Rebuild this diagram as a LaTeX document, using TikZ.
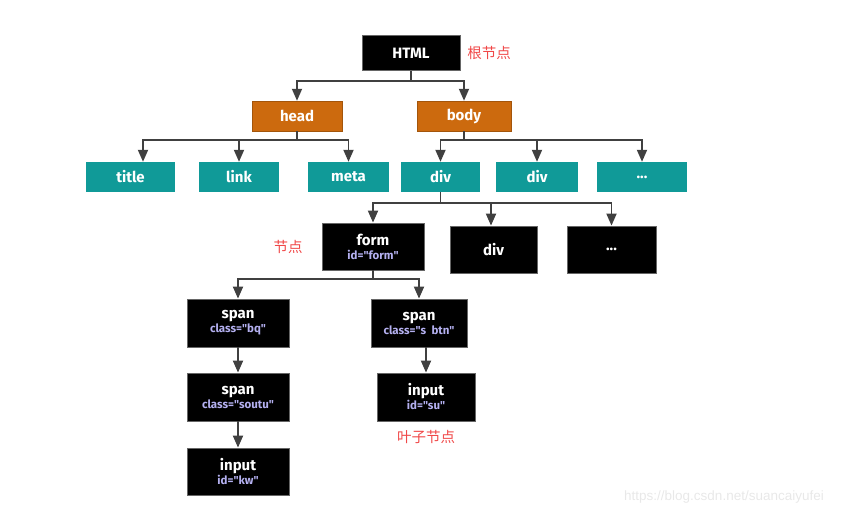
\documentclass[tikz,border=0pt]{standalone}
\usepackage{fontspec}
\setmainfont{Fira Sans}[Ligatures=TeXOff]
\newfontfamily\cjk{Noto Sans CJK SC}
\newfontfamily\wmfont{Liberation Sans}
\usetikzlibrary{arrows.meta}
\definecolor{teal1}{HTML}{109A98}
\definecolor{orange1}{HTML}{CC6A0E}
\definecolor{attr}{HTML}{B4B0F0}
\definecolor{red1}{HTML}{F04848}
\definecolor{line1}{HTML}{404040}
\tikzset{
  box/.style={inner sep=0pt, text=white, font=\bfseries\fontsize{15}{17}\selectfont, align=center},
  blackbox/.style={box, fill=black, draw=black!60, line width=0.8pt},
  tealbox/.style={box, fill=teal1},
  orangebox/.style={box, fill=orange1, draw=orange1!80!black, line width=0.5pt},
  conn/.style={draw=line1, line width=1.8pt},
  arr/.style={conn, -{Triangle[length=12pt,width=10pt]}},
  redlabel/.style={text=red1, font=\cjk\fontsize{14.5}{16}\selectfont},
}
\newcommand{\attrline}[1]{\\[-3pt]{\color{attr}\fontsize{11.5}{13}\selectfont #1}}
\begin{document}
\begin{tikzpicture}[x=1pt,y=-1pt]
\useasboundingbox (0,0) rectangle (851,515);
% nodes
\node[blackbox, minimum width=98pt, minimum height=35pt] (html) at (411,53) {HTML};
\node[orangebox, minimum width=90pt, minimum height=30pt] (head) at (297,116) {head};
\node[orangebox, minimum width=94pt, minimum height=30pt] (body) at (464,116) {body};
\node[tealbox, minimum width=89pt, minimum height=30pt] (title) at (130.5,177) {title};
\node[tealbox, minimum width=80pt, minimum height=30pt] (link) at (239,177) {link};
\node[tealbox, minimum width=81pt, minimum height=30pt] (meta) at (348.5,177) {meta};
\node[tealbox, minimum width=79pt, minimum height=30pt] (diva) at (440.5,177) {div};
\node[tealbox, minimum width=82pt, minimum height=30pt] (divb) at (537,177) {div};
\node[tealbox, minimum width=90pt, minimum height=30pt] (dotsa) at (642,177) {...};
\node[blackbox, minimum width=102pt, minimum height=47pt] (form) at (373,246.5) {form\attrline{id="form"}};
\node[blackbox, minimum width=87pt, minimum height=47pt] (divc) at (493.5,249.5) {div};
\node[blackbox, minimum width=89pt, minimum height=47pt] (dotsb) at (611.5,249.5) {...};
\node[blackbox, minimum width=102pt, minimum height=48pt] (spana) at (238,323) {span\attrline{class="bq"}};
\node[blackbox, minimum width=96pt, minimum height=48pt] (spanb) at (419,323) {span\attrline{class="s\ \ btn"}};
\node[blackbox, minimum width=102pt, minimum height=48pt] (spanc) at (238,397) {span\attrline{class="soutu"}};
\node[blackbox, minimum width=102pt, minimum height=47pt] (inputa) at (238,471.5) {input\attrline{id="kw"}};
\node[blackbox, minimum width=98pt, minimum height=48pt] (inputb) at (426,397) {input\attrline{id="su"}};
% labels
\node[redlabel] (lroot) at (489,53) {根节点};
\node[redlabel] (lnode) at (288,247) {节点};
\node[redlabel] (lleaf) at (426,437) {叶子节点};
\node[text=black!9, font=\wmfont\fontsize{13.5}{15}\selectfont] (wm) at (724,497) {https://blog.csdn.net/suancaiyufei};
% connectors
\coordinate (jh) at (411,81);
\draw[conn] (html.south) -- (jh);
\draw[arr] (jh) -| (head.north);
\draw[arr] (jh) -| (body.north);
\coordinate (jhead) at (297,140);
\draw[conn] (head.south) -- (jhead);
\draw[arr] (jhead) -| ([xshift=12.5pt]title.north);
\draw[arr] (jhead) -| (link.north);
\draw[arr] (jhead) -| (meta.north);
\coordinate (jbody) at (464,140);
\draw[conn] (body.south) -- (jbody);
\draw[arr] (jbody) -| (diva.north);
\draw[arr] (jbody) -| (divb.north);
\draw[arr] (jbody) -| (dotsa.north);
\coordinate (jdiv) at (440.5,203);
\draw[conn] (diva.south) -- ++(0,0.5) -- (jdiv);
\draw[arr] (jdiv) -| (form.north);
\draw[arr] (jdiv) -| ([xshift=-2.5pt]divc.north);
\draw[arr] (jdiv) -| (dotsb.north);
\coordinate (jform) at (373,279);
\draw[conn] (form.south) -- (jform);
\draw[arr] (jform) -| (spana.north);
\draw[arr] (jform) -| (spanb.north);
\draw[arr] (spana.south) -- (spanc.north);
\draw[arr] (spanc.south) -- (inputa.north);
\draw[arr] (spanb.south -| inputb.north) -- (inputb.north);
\end{tikzpicture}
\end{document}
